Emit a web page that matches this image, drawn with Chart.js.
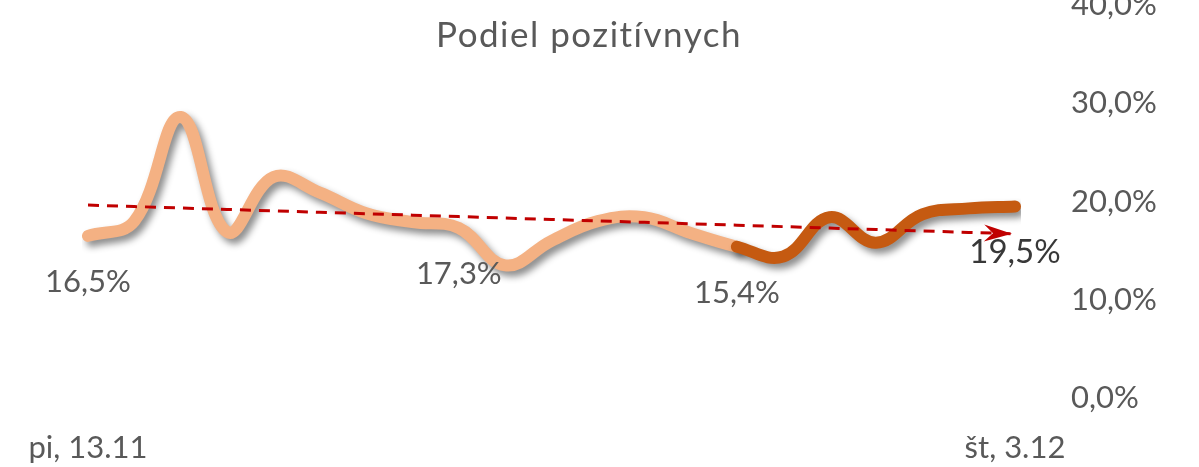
<!DOCTYPE html>
<html>
<head>
<meta charset="utf-8">
<script src="https://cdn.jsdelivr.net/npm/chart.js@4.4.0/dist/chart.umd.min.js"></script>
<style>
  html, body { margin: 0; padding: 0; background: #fff; }
  #wrap { position: relative; width: 1199px; height: 467px; overflow: hidden; }
  /* plátno posunuté hore, aby bola horná značka 40,0% orezaná ako v origináli */
  #box { position: absolute; left: 0; top: -25px; width: 1199px; height: 492px; }
</style>
</head>
<body>
<div id="wrap"><div id="box"><canvas id="c"></canvas></div></div>
<script>
const title = 'Podiel pozitívnych';

const days = [
  'pi, 13.11', 'so, 14.11', 'ne, 15.11', 'po, 16.11', 'ut, 17.11', 'st, 18.11', 'št, 19.11',
  'pi, 20.11', 'so, 21.11', 'ne, 22.11', 'po, 23.11', 'ut, 24.11', 'st, 25.11', 'št, 26.11',
  'pi, 27.11', 'so, 28.11', 'ne, 29.11', 'po, 30.11', 'ut, 1.12', 'st, 2.12', 'št, 3.12'
];

// podiel pozitívnych testov v %
const positives = [
  16.5, 18.0, 28.6, 16.9, 22.5, 20.9, 18.8, 17.9, 17.3, 13.5, 16.0,
  18.0, 18.4, 16.8, 15.4, 14.4, 18.4, 15.8, 18.7, 19.3, 19.5
];

const splitAt = 14;              // od tohto dňa tmavšia farba
const labelAt = [0, 8, 14, 20];  // body s popisom
const yMin = 0, yMax = 40, yStep = 10;

const light = '#F4B183';
const dark = '#C55A11';
const trendColor = '#C00000';
const textColor = '#595959';

// lineárny trend (najmenšie štvorce), ako v Exceli
const n = positives.length;
const mx = (n - 1) / 2;
const my = positives.reduce((a, b) => a + b, 0) / n;
let sxy = 0, sxx = 0;
positives.forEach((v, i) => { sxy += (i - mx) * (v - my); sxx += (i - mx) * (i - mx); });
const slope = sxy / sxx;
const trend = positives.map((_, i) => my + slope * (i - mx));

const fmt = v => v.toFixed(1).replace('.', ',') + '%';

const shadowPlugin = {
  id: 'lineShadow',
  beforeDatasetDraw(chart, args) {
    if (args.index !== 1) return;
    const ctx = chart.ctx;
    ctx.save();
    ctx.shadowColor = 'rgba(0,0,0,0.45)';
    ctx.shadowBlur = 7;
    ctx.shadowOffsetX = 4;
    ctx.shadowOffsetY = 5;
  },
  afterDatasetDraw(chart, args) {
    if (args.index !== 1) return;
    chart.ctx.restore();
  }
};

const extrasPlugin = {
  id: 'extras',
  afterDraw(chart) {
    const ctx = chart.ctx;
    const off = 25;

    // názov
    ctx.save();
    ctx.font = '35px Lato';
    ctx.fillStyle = textColor;
    ctx.textAlign = 'center';
    ctx.textBaseline = 'alphabetic';
    ctx.letterSpacing = '1.5px';
    ctx.fillText(title, 589, 47 + off);
    ctx.restore();

    // šípka na konci trendu
    const tm = chart.getDatasetMeta(0).data;
    const a = tm[tm.length - 2], b = tm[tm.length - 1];
    const ang = Math.atan2(b.y - a.y, b.x - a.x);
    ctx.save();
    ctx.translate(b.x - 3, b.y);
    ctx.rotate(ang);
    ctx.fillStyle = trendColor;
    ctx.beginPath();
    ctx.moveTo(0, 0);
    ctx.lineTo(-28, -8.5);
    ctx.lineTo(-19, 0);
    ctx.lineTo(-28, 8.5);
    ctx.closePath();
    ctx.fill();
    ctx.restore();

    // popisy hodnôt
    const pm = chart.getDatasetMeta(1).data;
    ctx.save();
    ctx.textAlign = 'center';
    ctx.textBaseline = 'alphabetic';
    labelAt.forEach(i => {
      const p = pm[i];
      const last = i === n - 1;
      ctx.font = (last ? '33px' : '31px') + ' Lato';
      ctx.fillStyle = last ? '#383838' : textColor;
      ctx.fillText(fmt(positives[i]), p.x, p.y + (last ? 57 : 56));
    });
    ctx.restore();
  }
};

Chart.defaults.font.family = 'Lato';
Chart.defaults.color = textColor;

new Chart(document.getElementById('c'), {
  type: 'line',
  data: {
    labels: days,
    datasets: [
      {
        label: 'Trend',
        data: trend,
        borderColor: trendColor,
        borderWidth: 3,
        borderDash: [11, 8],
        pointRadius: 0,
        tension: 0,
        order: 0
      },
      {
        label: title,
        data: positives,
        borderWidth: 12,
        borderCapStyle: 'round',
        borderJoinStyle: 'round',
        borderColor: light,
        segment: {
          borderColor: c => c.p0DataIndex >= splitAt ? dark : light
        },
        pointRadius: 0,
        tension: 0.4,
        order: 1
      }
    ]
  },
  options: {
    responsive: true,
    maintainAspectRatio: false,
    animation: false,
    layout: { padding: { top: 30, left: 88, right: 0, bottom: 0 } },
    plugins: {
      legend: { display: false },
      tooltip: { enabled: false },
      title: { display: false }
    },
    scales: {
      x: {
        grid: { display: false, drawTicks: false },
        border: { display: false },
        afterFit: s => {
          s.height = 69;
          s.paddingLeft = 0;
          s.paddingRight = 0;
        },
        ticks: {
          autoSkip: false,
          maxRotation: 0,
          padding: 31,
          font: { size: 31 },
          color: textColor,
          callback: (v, i) => (i === 0 || i === days.length - 1) ? days[i] : ''
        }
      },
      y: {
        position: 'right',
        min: yMin,
        max: yMax,
        grid: { display: false, drawTicks: false },
        border: { display: false },
        afterFit: s => {
          s.width = 184;
          s.paddingTop = 0;
          s.paddingBottom = 0;
        },
        ticks: {
          stepSize: yStep,
          padding: 56,
          font: { size: 31 },
          color: textColor,
          callback: v => fmt(v)
        }
      }
    }
  },
  plugins: [shadowPlugin, extrasPlugin]
});
</script>
</body>
</html>
